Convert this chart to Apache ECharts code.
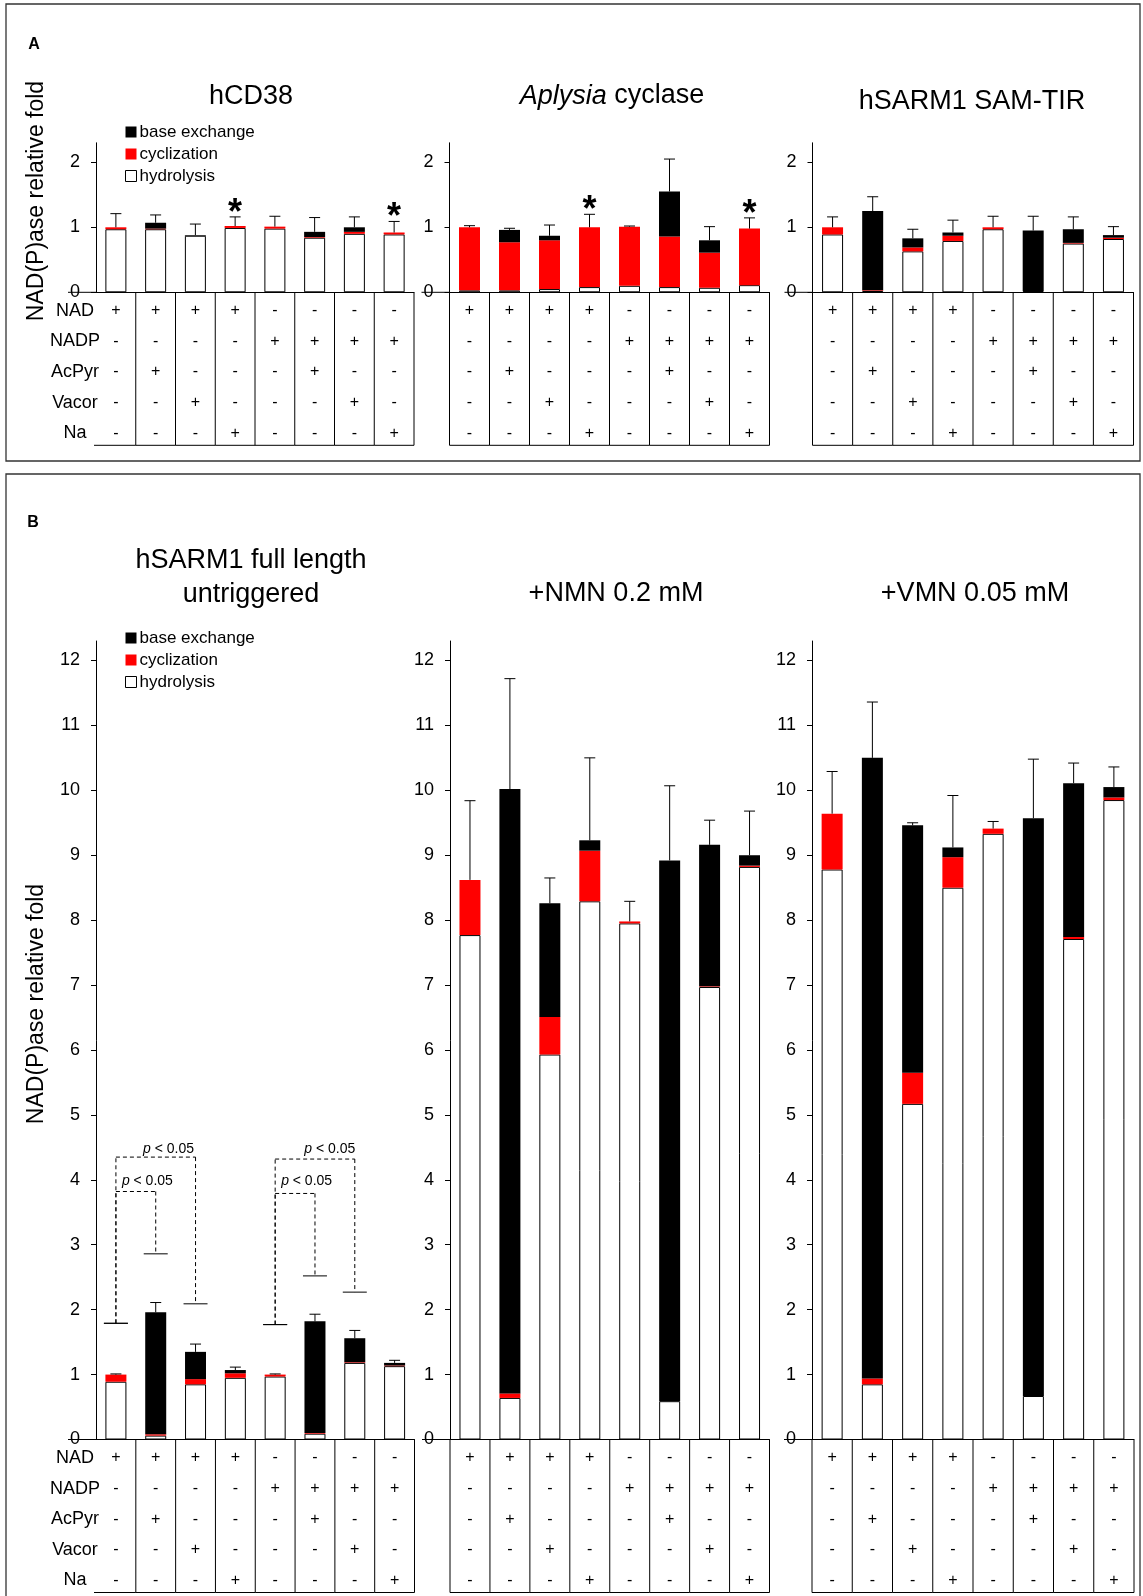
<!DOCTYPE html>
<html><head><meta charset="utf-8">
<script src="https://cdn.jsdelivr.net/npm/echarts@6/dist/echarts.min.js"></script>
<style>html,body{margin:0;padding:0;background:#fff}#c{width:1143px;height:1596px}</style>
</head><body><div id="c"></div>
<script>
// ---------- DATA ----------
const categories = ['c1','c2','c3','c4','c5','c6','c7','c8'];
const rowNames = ['NAD','NADP','AcPyr','Vacor','Na'];
const rowNAD   = ['+','+','+','+','-','-','-','-'];
const rowNADP  = ['-','-','-','-','+','+','+','+'];
const rowAcPyr = ['-','+','-','-','-','+','-','-'];
const rowVacor = ['-','-','+','-','-','-','+','-'];
const rowNa    = ['-','-','-','+','-','-','-','+'];

const hCD38_hydrolysis = [0.97, 0.97, 0.87, 0.99, 0.98, 0.84, 0.90, 0.89];
const hCD38_cyclization = [0.03, 0.01, 0.00, 0.03, 0.03, 0.01, 0.03, 0.03];
const hCD38_baseExchange = [0.00, 0.09, 0.01, 0.00, 0.00, 0.08, 0.07, 0.00];
const hCD38_errTop = [1.21, 1.19, 1.05, 1.16, 1.17, 1.15, 1.16, 1.09];
const hCD38_stars = [3, 7];

const aplysia_hydrolysis = [0.03, 0.03, 0.05, 0.08, 0.10, 0.08, 0.07, 0.11];
const aplysia_cyclization = [0.97, 0.74, 0.75, 0.92, 0.91, 0.78, 0.54, 0.87];
const aplysia_baseExchange = [0.00, 0.19, 0.07, 0.00, 0.00, 0.69, 0.19, 0.00];
const aplysia_errTop = [1.025, 0.985, 1.035, 1.20, 1.02, 2.05, 1.01, 1.145];
const aplysia_stars = [3, 7];

const samtir_hydrolysis = [0.89, 0.02, 0.63, 0.79, 0.97, 0.02, 0.75, 0.82];
const samtir_cyclization = [0.11, 0.01, 0.06, 0.08, 0.03, 0.00, 0.01, 0.02];
const samtir_baseExchange = [0.00, 1.22, 0.14, 0.05, 0.00, 0.93, 0.21, 0.04];
const samtir_errTop = [1.16, 1.47, 0.97, 1.11, 1.17, 1.17, 1.16, 1.01];

const full_hydrolysis = [0.89, 0.06, 0.85, 0.95, 0.97, 0.09, 1.18, 1.13];
const full_cyclization = [0.11, 0.02, 0.08, 0.07, 0.03, 0.01, 0.01, 0.01];
const full_baseExchange = [0.00, 1.88, 0.42, 0.05, 0.00, 1.72, 0.37, 0.04];
const full_errTop = [1.01, 2.11, 1.47, 1.115, 1.01, 1.93, 1.68, 1.22];

const nmn_hydrolysis = [7.77, 0.64, 5.93, 8.29, 7.95, 0.59, 6.97, 8.82];
const nmn_cyclization = [0.85, 0.07, 0.58, 0.78, 0.03, 0.00, 0.01, 0.02];
const nmn_baseExchange = [0.00, 9.31, 1.75, 0.16, 0.00, 8.33, 2.18, 0.16];
const nmn_errTop = [9.84, 11.72, 8.65, 10.50, 8.29, 10.07, 9.54, 9.68];

const vmn_hydrolysis = [8.78, 0.85, 5.17, 8.50, 9.33, 0.67, 7.71, 9.85];
const vmn_cyclization = [0.86, 0.09, 0.48, 0.47, 0.08, 0.00, 0.03, 0.04];
const vmn_baseExchange = [0.00, 9.56, 3.81, 0.15, 0.00, 8.90, 2.37, 0.16];
const vmn_errTop = [10.29, 11.36, 9.50, 9.92, 9.52, 10.48, 10.42, 10.36];

// significance brackets (panel B, full length): from bar, its cap, to bar, its cap, bracket top, label x (category units), label y
const bracketFrom   = [0, 0, 4, 4];
const bracketFromCap= [1.79, 1.79, 1.77, 1.77];
const bracketTo     = [2, 1, 6, 5];
const bracketToCap  = [2.09, 2.86, 2.27, 2.52];
const bracketTop    = [4.35, 3.82, 4.32, 3.79];
const bracketLabelX = [0.68, 0.15, 4.73, 4.15];
const bracketLabelY = [4.48, 3.98, 4.48, 3.98];
const bracketLabel  = 'p < 0.05';

const ticksA = [0, 1, 2];
const ticksB = [0,1,2,3,4,5,6,7,8,9,10,11,12];

// ---------- LAYOUT ----------
const FONT = "'Liberation Sans', Arial, Helvetica, sans-serif";
const rows = [rowNAD, rowNADP, rowAcPyr, rowVacor, rowNa];
const panels = [
  {hyd:hCD38_hydrolysis, cyc:hCD38_cyclization, base:hCD38_baseExchange, err:hCD38_errTop, stars:hCD38_stars,
   grid:{left:96, top:142.8, width:318, height:149.5}, max:2.3, ticks:ticksA, first:true},
  {hyd:aplysia_hydrolysis, cyc:aplysia_cyclization, base:aplysia_baseExchange, err:aplysia_errTop, stars:aplysia_stars,
   grid:{left:449.5, top:142.8, width:320, height:149.5}, max:2.3, ticks:ticksA, first:false},
  {hyd:samtir_hydrolysis, cyc:samtir_cyclization, base:samtir_baseExchange, err:samtir_errTop, stars:[],
   grid:{left:812.5, top:142.8, width:321, height:149.5}, max:2.3, ticks:ticksA, first:false},
  {hyd:full_hydrolysis, cyc:full_cyclization, base:full_baseExchange, err:full_errTop, stars:[],
   grid:{left:96, top:641, width:318.5, height:798.5}, max:12.3, ticks:ticksB, first:true, brackets:true},
  {hyd:nmn_hydrolysis, cyc:nmn_cyclization, base:nmn_baseExchange, err:nmn_errTop, stars:[],
   grid:{left:450, top:641, width:319.5, height:798.5}, max:12.3, ticks:ticksB, first:false},
  {hyd:vmn_hydrolysis, cyc:vmn_cyclization, base:vmn_baseExchange, err:vmn_errTop, stars:[],
   grid:{left:812, top:641, width:322, height:798.5}, max:12.3, ticks:ticksB, first:false}
];

function ln(x1,y1,x2,y2,dash){
  return {type:'line', shape:{x1:x1,y1:y1,x2:x2,y2:y2}, style:{stroke:'#000', lineWidth:1, lineDash:dash||null}};
}
function tx(t,x,y,size){
  return {type:'text', style:{text:t, x:x, y:y, fontSize:size, fontFamily:FONT, fill:'#000', textAlign:'center', textVerticalAlign:'middle'}};
}

function renderErr(params, api){
  const i = api.value(0), t = api.value(1), e = api.value(2), s = api.value(3);
  const p1 = api.coord([i, t]), p2 = api.coord([i, e]);
  const ch = [ln(p1[0], p1[1], p2[0], p2[1]), ln(p2[0]-5.5, p2[1], p2[0]+5.5, p2[1])];
  if (s) ch.push({type:'text', style:{text:'*', x:p2[0], y:p2[1]-3, textAlign:'center', textVerticalAlign:'middle',
    fontSize:36, fontWeight:'bold', fontFamily:FONT, fill:'#000'}});
  return {type:'group', children:ch};
}

function makeTable(first){
  return function(params, api){
    const i = api.value(0);
    const c = api.coord([i, 0]);
    const bw = api.size([1, 0])[0];
    const xl = c[0]-bw/2, xr = c[0]+bw/2, y0 = c[1];
    const H = 153, R0 = 18.5, RS = 30.6;
    const ch = [];
    rows.forEach((r,k)=> ch.push(tx(r[i], c[0], y0+R0+k*RS, 16)));
    ch.push(ln(xr, y0, xr, y0+H));
    ch.push(ln(first && i===0 ? xl-2 : xl, y0+H, xr, y0+H));
    if (i === 0){
      if (!first) ch.push(ln(xl, y0, xl, y0+H));
      else rowNames.forEach((n,k)=> ch.push(tx(n, xl-21, y0+R0+k*RS, 18)));
      ch.push(ln(xl-28, y0, xl, y0));
    }
    return {type:'group', children:ch};
  };
}

function renderBracket(params, api){
  const f = api.value(0), fc = api.value(1), t = api.value(2), tc = api.value(3),
        top = api.value(4), lx = api.value(5), ly = api.value(6);
  const bw = api.size([1, 0])[0];
  const a = api.coord([f, fc]), aT = api.coord([f, top]), b = api.coord([t, tc]), bT = api.coord([t, top]);
  const lb = Math.floor(lx);
  const lp = api.coord([lb, ly]);
  const lxp = lp[0] + (lx - lb) * bw;
  const d = [4, 3];
  return {type:'group', children:[
    ln(a[0], a[1], aT[0], aT[1], d),
    ln(aT[0], aT[1], bT[0], bT[1], d),
    ln(bT[0], bT[1], b[0], b[1], d),
    ln(a[0]-12, a[1], a[0]+12, a[1]),
    ln(b[0]-12, b[1], b[0]+12, b[1]),
    {type:'text', style:{text:'{i|p}' + bracketLabel.slice(1), x:lxp, y:lp[1], textAlign:'left', textVerticalAlign:'middle',
      fontSize:14, fontFamily:FONT, fill:'#000', rich:{i:{fontStyle:'italic', fontSize:14, fontFamily:FONT}}}}
  ]};
}

const grid = [], xAxis = [], yAxis = [], series = [];
panels.forEach((p, k) => {
  grid.push(Object.assign({outerBoundsMode:'none', containLabel:false}, p.grid));
  xAxis.push({type:'category', gridIndex:k, data:categories,
    axisLine:{show:true, lineStyle:{color:'#000', width:1}}, axisTick:{show:false}, axisLabel:{show:false}, splitLine:{show:false}});
  yAxis.push({type:'value', gridIndex:k, min:0, max:p.max, interval:1,
    axisLine:{show:true, lineStyle:{color:'#000', width:1}},
    axisTick:{show:true, length:5, customValues:p.ticks, lineStyle:{color:'#000'}},
    axisLabel:{show:true, customValues:p.ticks, margin:16, fontSize:18, fontFamily:FONT, color:'#000'},
    splitLine:{show:false}});
  const st = 's' + k;
  series.push({type:'bar', name:'hydrolysis', xAxisIndex:k, yAxisIndex:k, stack:st, barWidth:21, data:p.hyd,
    itemStyle:{color:'#fff', borderColor:'#000', borderWidth:1}});
  series.push({type:'bar', name:'cyclization', xAxisIndex:k, yAxisIndex:k, stack:st, barWidth:21, data:p.cyc,
    itemStyle:{color:'#ff0000'}});
  series.push({type:'bar', name:'base exchange', xAxisIndex:k, yAxisIndex:k, stack:st, barWidth:21, data:p.base,
    itemStyle:{color:'#000'}});
  series.push({type:'custom', xAxisIndex:k, yAxisIndex:k, z:4, clip:false, renderItem:renderErr,
    data:categories.map((c,i)=>[i, p.hyd[i]+p.cyc[i]+p.base[i], p.err[i], p.stars.indexOf(i) >= 0 ? 1 : 0])});
  series.push({type:'custom', xAxisIndex:k, yAxisIndex:k, z:5, clip:false, renderItem:makeTable(p.first),
    data:categories.map((c,i)=>[i, 0])});
  if (p.brackets){
    series.push({type:'custom', xAxisIndex:k, yAxisIndex:k, z:5, clip:false, renderItem:renderBracket,
      data:bracketFrom.map((f,j)=>[f, bracketFromCap[j], bracketTo[j], bracketToCap[j], bracketTop[j], bracketLabelX[j], bracketLabelY[j]])});
  }
});

const legendData = [
  {name:'base exchange', itemStyle:{color:'#000', borderWidth:0}},
  {name:'cyclization', itemStyle:{color:'#ff0000', borderWidth:0}},
  {name:'hydrolysis', itemStyle:{color:'#fff', borderColor:'#000', borderWidth:1}}
];
function legendAt(top){
  return {orient:'vertical', left:125, top:top, padding:0, itemWidth:11, itemHeight:11, itemGap:4, icon:'rect',
    selectedMode:false, data:legendData, textStyle:{fontSize:17, fontFamily:FONT, color:'#000', lineHeight:18, padding:[0,0,0,-2]}};
}

function gtext(t, x, y, size, extra){
  return {type:'text', x:x, y:y, style:Object.assign({text:t, fontSize:size, fontFamily:FONT, fill:'#000',
    textAlign:'center', textVerticalAlign:'middle'}, extra||{})};
}

const graphic = [
  {type:'rect', shape:{x:6, y:4, width:1134, height:457}, style:{fill:'none', stroke:'#333', lineWidth:1.3}},
  {type:'rect', shape:{x:6, y:474, width:1134, height:1140}, style:{fill:'none', stroke:'#333', lineWidth:1.3}},
  gtext('A', 34, 45, 16, {fontWeight:'bold'}),
  gtext('B', 33, 523, 16, {fontWeight:'bold'}),
  gtext('hCD38', 251, 97, 27),
  gtext('{i|Aplysia} cyclase', 612, 96, 27, {rich:{i:{fontStyle:'italic', fontSize:27, fontFamily:FONT}}}),
  gtext('hSARM1 SAM-TIR', 972, 102, 27),
  gtext('hSARM1 full length', 251, 561, 27),
  gtext('untriggered', 251, 595, 27),
  gtext('+NMN 0.2 mM', 616, 594, 27),
  gtext('+VMN 0.05 mM', 975, 594, 27),
  {type:'text', x:37, y:201, rotation:Math.PI/2, style:{text:'NAD(P)ase relative fold', fontSize:23, fontFamily:FONT, fill:'#000', textAlign:'center', textVerticalAlign:'middle'}},
  {type:'text', x:37, y:1004, rotation:Math.PI/2, style:{text:'NAD(P)ase relative fold', fontSize:23, fontFamily:FONT, fill:'#000', textAlign:'center', textVerticalAlign:'middle'}}
];

const chart = echarts.init(document.getElementById('c'), null, {renderer:'canvas'});
chart.setOption({
  animation:false,
  backgroundColor:'#fff',
  grid:grid, xAxis:xAxis, yAxis:yAxis, series:series,
  legend:[legendAt(123), legendAt(629)],
  graphic:graphic
});
</script></body></html>
